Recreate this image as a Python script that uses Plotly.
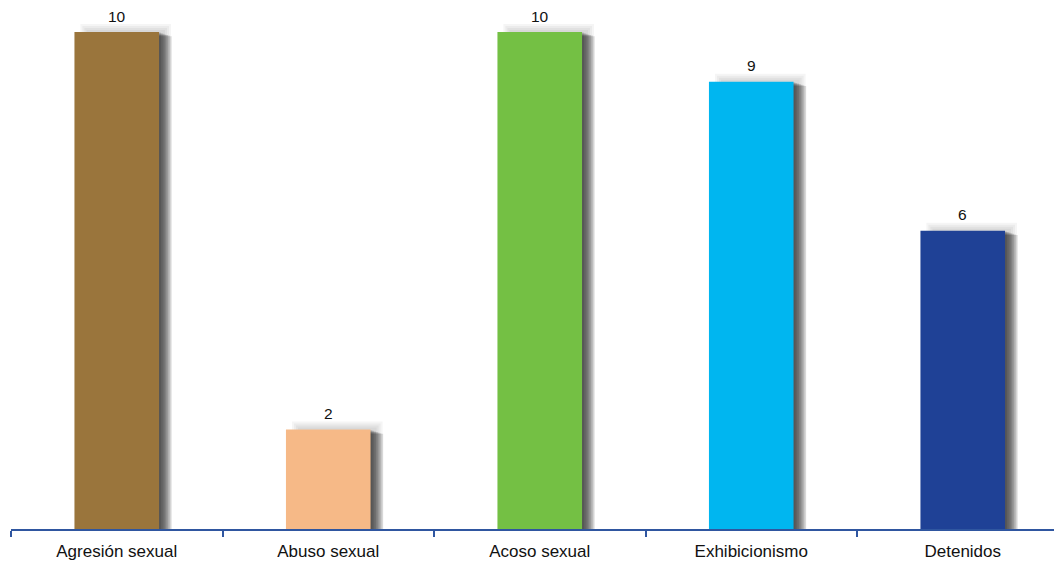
import plotly.graph_objects as go

categories = ["Agresión sexual", "Abuso sexual", "Acoso sexual", "Exhibicionismo", "Detenidos"]
values = [10, 2, 10, 9, 6]
colors = ["#9A753C", "#F6B987", "#74C044", "#00B6F0", "#1F4196"]

# The page body adds an 8px margin, so the figure is laid out 8px left/up.
PX_X = 1 / 211.5   # data units per pixel (x)
PX_Y = 1 / 49.7    # data units per pixel (y)
BAR_W = 0.40
PLOT_H = 521

fig = go.Figure()

# soft drop shadow: right side layers
for k in range(1, 8):
    left = -BAR_W / 2 + 10 * PX_X
    right = BAR_W / 2 + 1.8 * k * PX_X
    fig.add_trace(go.Bar(
        x=categories,
        y=[v - 0.6 * k * PX_Y for v in values],
        width=right - left,
        offset=left,
        marker=dict(color="rgba(30,30,30,0.15)", line=dict(width=0)),
        hoverinfo="skip",
        showlegend=False,
    ))
# faint halo above the bar
for k in range(1, 5):
    left = -BAR_W / 2 + (14 - 2 * k) * PX_X
    right = BAR_W / 2 + (4 + 2 * k) * PX_X
    fig.add_trace(go.Bar(
        x=categories,
        y=[v + 2 * k * PX_Y for v in values],
        width=right - left,
        offset=left,
        marker=dict(color="rgba(30,30,30,0.045)", line=dict(width=0)),
        hoverinfo="skip",
        showlegend=False,
    ))

fig.add_trace(go.Bar(
    x=categories,
    y=values,
    width=BAR_W,
    marker=dict(color=colors, line=dict(width=0)),
    showlegend=False,
))

for c, v in zip(categories, values):
    fig.add_annotation(x=c, y=v, text=str(v), showarrow=False,
                       yanchor="middle", yshift=16,
                       font=dict(family="Liberation Sans, Arial", size=15.5, color="#111"))

fig.update_layout(
    width=1054, height=555,
    margin=dict(l=3, r=0, t=0, b=555 - PLOT_H),
    paper_bgcolor="white", plot_bgcolor="white",
    barmode="overlay",
    font=dict(family="Liberation Sans, Arial", size=17, color="#111"),
    xaxis=dict(
        type="category",
        range=[-0.5, -0.5 + 1051 * PX_X],
        showline=True, linecolor="#2F56A0", linewidth=2,
        ticks="outside", tickson="boundaries", ticklen=6,
        tickcolor="#2F56A0", tickwidth=2,
        showgrid=False, zeroline=False,
        ticklabelstandoff=6,
        tickfont=dict(size=17, color="#111"),
    ),
    yaxis=dict(visible=False, range=[0, PLOT_H * PX_Y], showgrid=False, zeroline=False),
)

fig.write_html("out.html")
